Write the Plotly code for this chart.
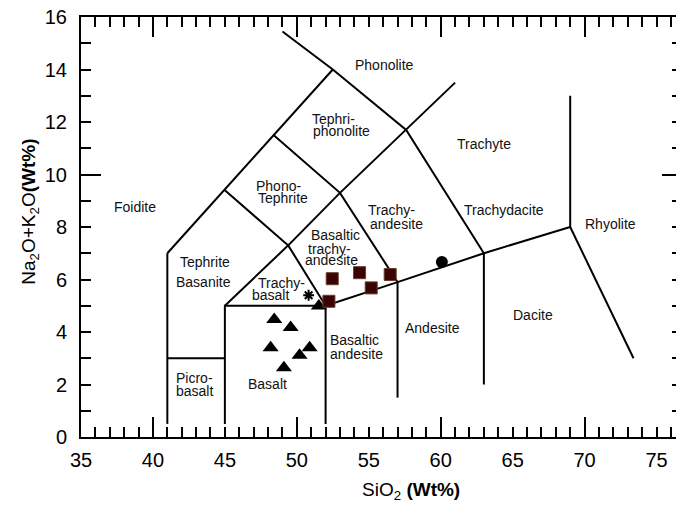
import plotly.graph_objects as go

# ---------------- data ----------------
# TAS field boundaries (SiO2, Na2O+K2O)
bound_x = [
    [41, 41],
    [41, 45],
    [45, 45, 52],
    [52, 52, 57, 63, 69, 69],
    [57, 57],
    [63, 63],
    [69, 73.4],
    [45, 49.4, 52],
    [41, 52.5],
    [49.0, 52.5, 57.6, 63],
    [45, 49.4, 53, 57.6, 61],
    [48.4, 53, 57],
]
bound_y = [
    [0.5, 7],
    [3, 3],
    [0.5, 5, 5],
    [0.5, 5, 5.9, 7, 8, 13],
    [1.5, 5.9],
    [2, 7],
    [8, 3],
    [5, 7.3, 5],
    [7, 14],
    [15.45, 14, 11.7, 7],
    [9.4, 7.3, 9.3, 11.7, 13.5],
    [11.5, 9.3, 5.9],
]

# samples
tri_x = [48.43, 49.57, 48.18, 50.89, 50.19, 49.10, 51.53]
tri_y = [4.48, 4.17, 3.40, 3.40, 3.11, 2.64, 4.99]
sq_x = [52.46, 54.36, 56.49, 55.17, 52.23]
sq_y = [6.03, 6.26, 6.19, 5.68, 5.17]
circ_x = [60.08]
circ_y = [6.67]
ast_x = [50.82]
ast_y = [5.40]

# field names (one entry per text line)
label_text = ["Phonolite", "Tephri-", "phonolite", "Trachyte", "Foidite",
              "Phono-", "Tephrite", "Trachy-", "andesite", "Trachydacite",
              "Rhyolite", "Basaltic", "trachy-", "andesite", "Tephrite",
              "Basanite", "Trachy-", "basalt", "Andesite", "Dacite",
              "Basaltic", "andesite", "Basalt", "Picro-", "basalt"]
label_x = [56.12, 52.53, 53.07, 62.98, 38.72,
           48.73, 49.01, 56.58, 56.93, 64.40,
           71.82, 52.71, 52.24, 52.43, 43.59,
           43.49, 48.95, 48.19, 59.45, 66.43,
           54.03, 54.17, 47.99, 42.89, 42.92]
label_y = [14.16, 12.13, 11.66, 11.15, 8.75,
           9.58, 9.09, 8.64, 8.13, 8.64,
           8.13, 7.68, 7.18, 6.73, 6.67,
           5.90, 5.87, 5.40, 4.15, 4.66,
           3.68, 3.18, 2.03, 2.24, 1.74]

x_long = [40, 50, 60, 70]
y_long = [10]

X_RANGE = [35, 76.77]
Y_RANGE = [0, 16]

FONT = "Liberation Sans, Arial, sans-serif"

fig = go.Figure()

for bx, by in zip(bound_x, bound_y):
    fig.add_trace(go.Scatter(x=bx, y=by, mode="lines",
                             line=dict(color="black", width=2),
                             showlegend=False, hoverinfo="skip"))

fig.add_trace(go.Scatter(x=tri_x, y=tri_y, mode="markers",
                         marker=dict(symbol="triangle-up", size=14, color="black"),
                         showlegend=False))
fig.add_trace(go.Scatter(x=sq_x, y=sq_y, mode="markers",
                         marker=dict(symbol="square", size=12, color="#3a0404",
                                     line=dict(color="#6a3a2a", width=1)),
                         showlegend=False))
fig.add_trace(go.Scatter(x=circ_x, y=circ_y, mode="markers",
                         marker=dict(symbol="circle", size=12, color="black"),
                         showlegend=False))
fig.add_trace(go.Scatter(x=ast_x, y=ast_y, mode="markers",
                         marker=dict(symbol="asterisk", size=9, color="black",
                                     line=dict(color="black", width=2)),
                         showlegend=False))

# invisible trace for overlay axes (long ticks)
fig.add_trace(go.Scatter(x=[None], y=[None], xaxis="x2", yaxis="y2",
                         mode="markers", showlegend=False, hoverinfo="skip"))

for t, lx, ly in zip(label_text, label_x, label_y):
    fig.add_annotation(x=lx, y=ly, text=t, showarrow=False,
                       font=dict(family=FONT, size=14, color="#111"),
                       xanchor="center", yanchor="middle", borderpad=0)

# axis titles
fig.add_annotation(xref="paper", yref="paper", x=0.549, y=-0.129,
                   text="SiO<sub>2</sub> <b>(Wt%)</b>", showarrow=False,
                   font=dict(family=FONT, size=19, color="black"),
                   xanchor="center", yanchor="middle")
fig.add_annotation(xref="paper", yref="paper", x=-0.085, y=0.536,
                   text="Na<sub>2</sub>O+K<sub>2</sub>O<b>(Wt%)</b>", showarrow=False,
                   textangle=-90,
                   font=dict(family=FONT, size=19, color="black"),
                   xanchor="center", yanchor="middle")

common = dict(showgrid=False, zeroline=False, ticks="inside", tickwidth=2,
              tickcolor="black", automargin=False)

# page body adds an 8px offset, so the figure is sized to fit the window
fig.update_layout(
    width=676, height=499,
    margin=dict(l=73, r=2, t=9, b=70),
    paper_bgcolor="white", plot_bgcolor="white",
    font=dict(family=FONT, color="black"),
    xaxis=dict(range=X_RANGE, tick0=35, dtick=5,
               minor=dict(tick0=35, dtick=1, ticks="inside", ticklen=10,
                          tickwidth=2, tickcolor="black", showgrid=False),
               ticklen=10, showline=True, linecolor="black", linewidth=2,
               mirror="ticks", tickfont=dict(size=20, family=FONT),
               ticklabelstandoff=4, ticklabeloverflow="allow", **common),
    yaxis=dict(range=Y_RANGE, tick0=0, dtick=2,
               minor=dict(tick0=0, dtick=1, ticks="inside", ticklen=10,
                          tickwidth=2, tickcolor="black", showgrid=False),
               ticklen=10, showline=True, linecolor="black", linewidth=2,
               mirror="ticks", tickfont=dict(size=20, family=FONT),
               ticklabelstandoff=8, ticklabeloverflow="allow", **common),
    xaxis2=dict(range=X_RANGE, overlaying="x", tickvals=x_long, ticklen=20,
                showticklabels=False, showline=False, mirror="ticks", side="bottom",
                **common),
    yaxis2=dict(range=Y_RANGE, overlaying="y", tickvals=y_long, ticklen=20,
                showticklabels=False, showline=False, mirror="ticks", side="left",
                **common),
)

fig.write_html("out.html")
